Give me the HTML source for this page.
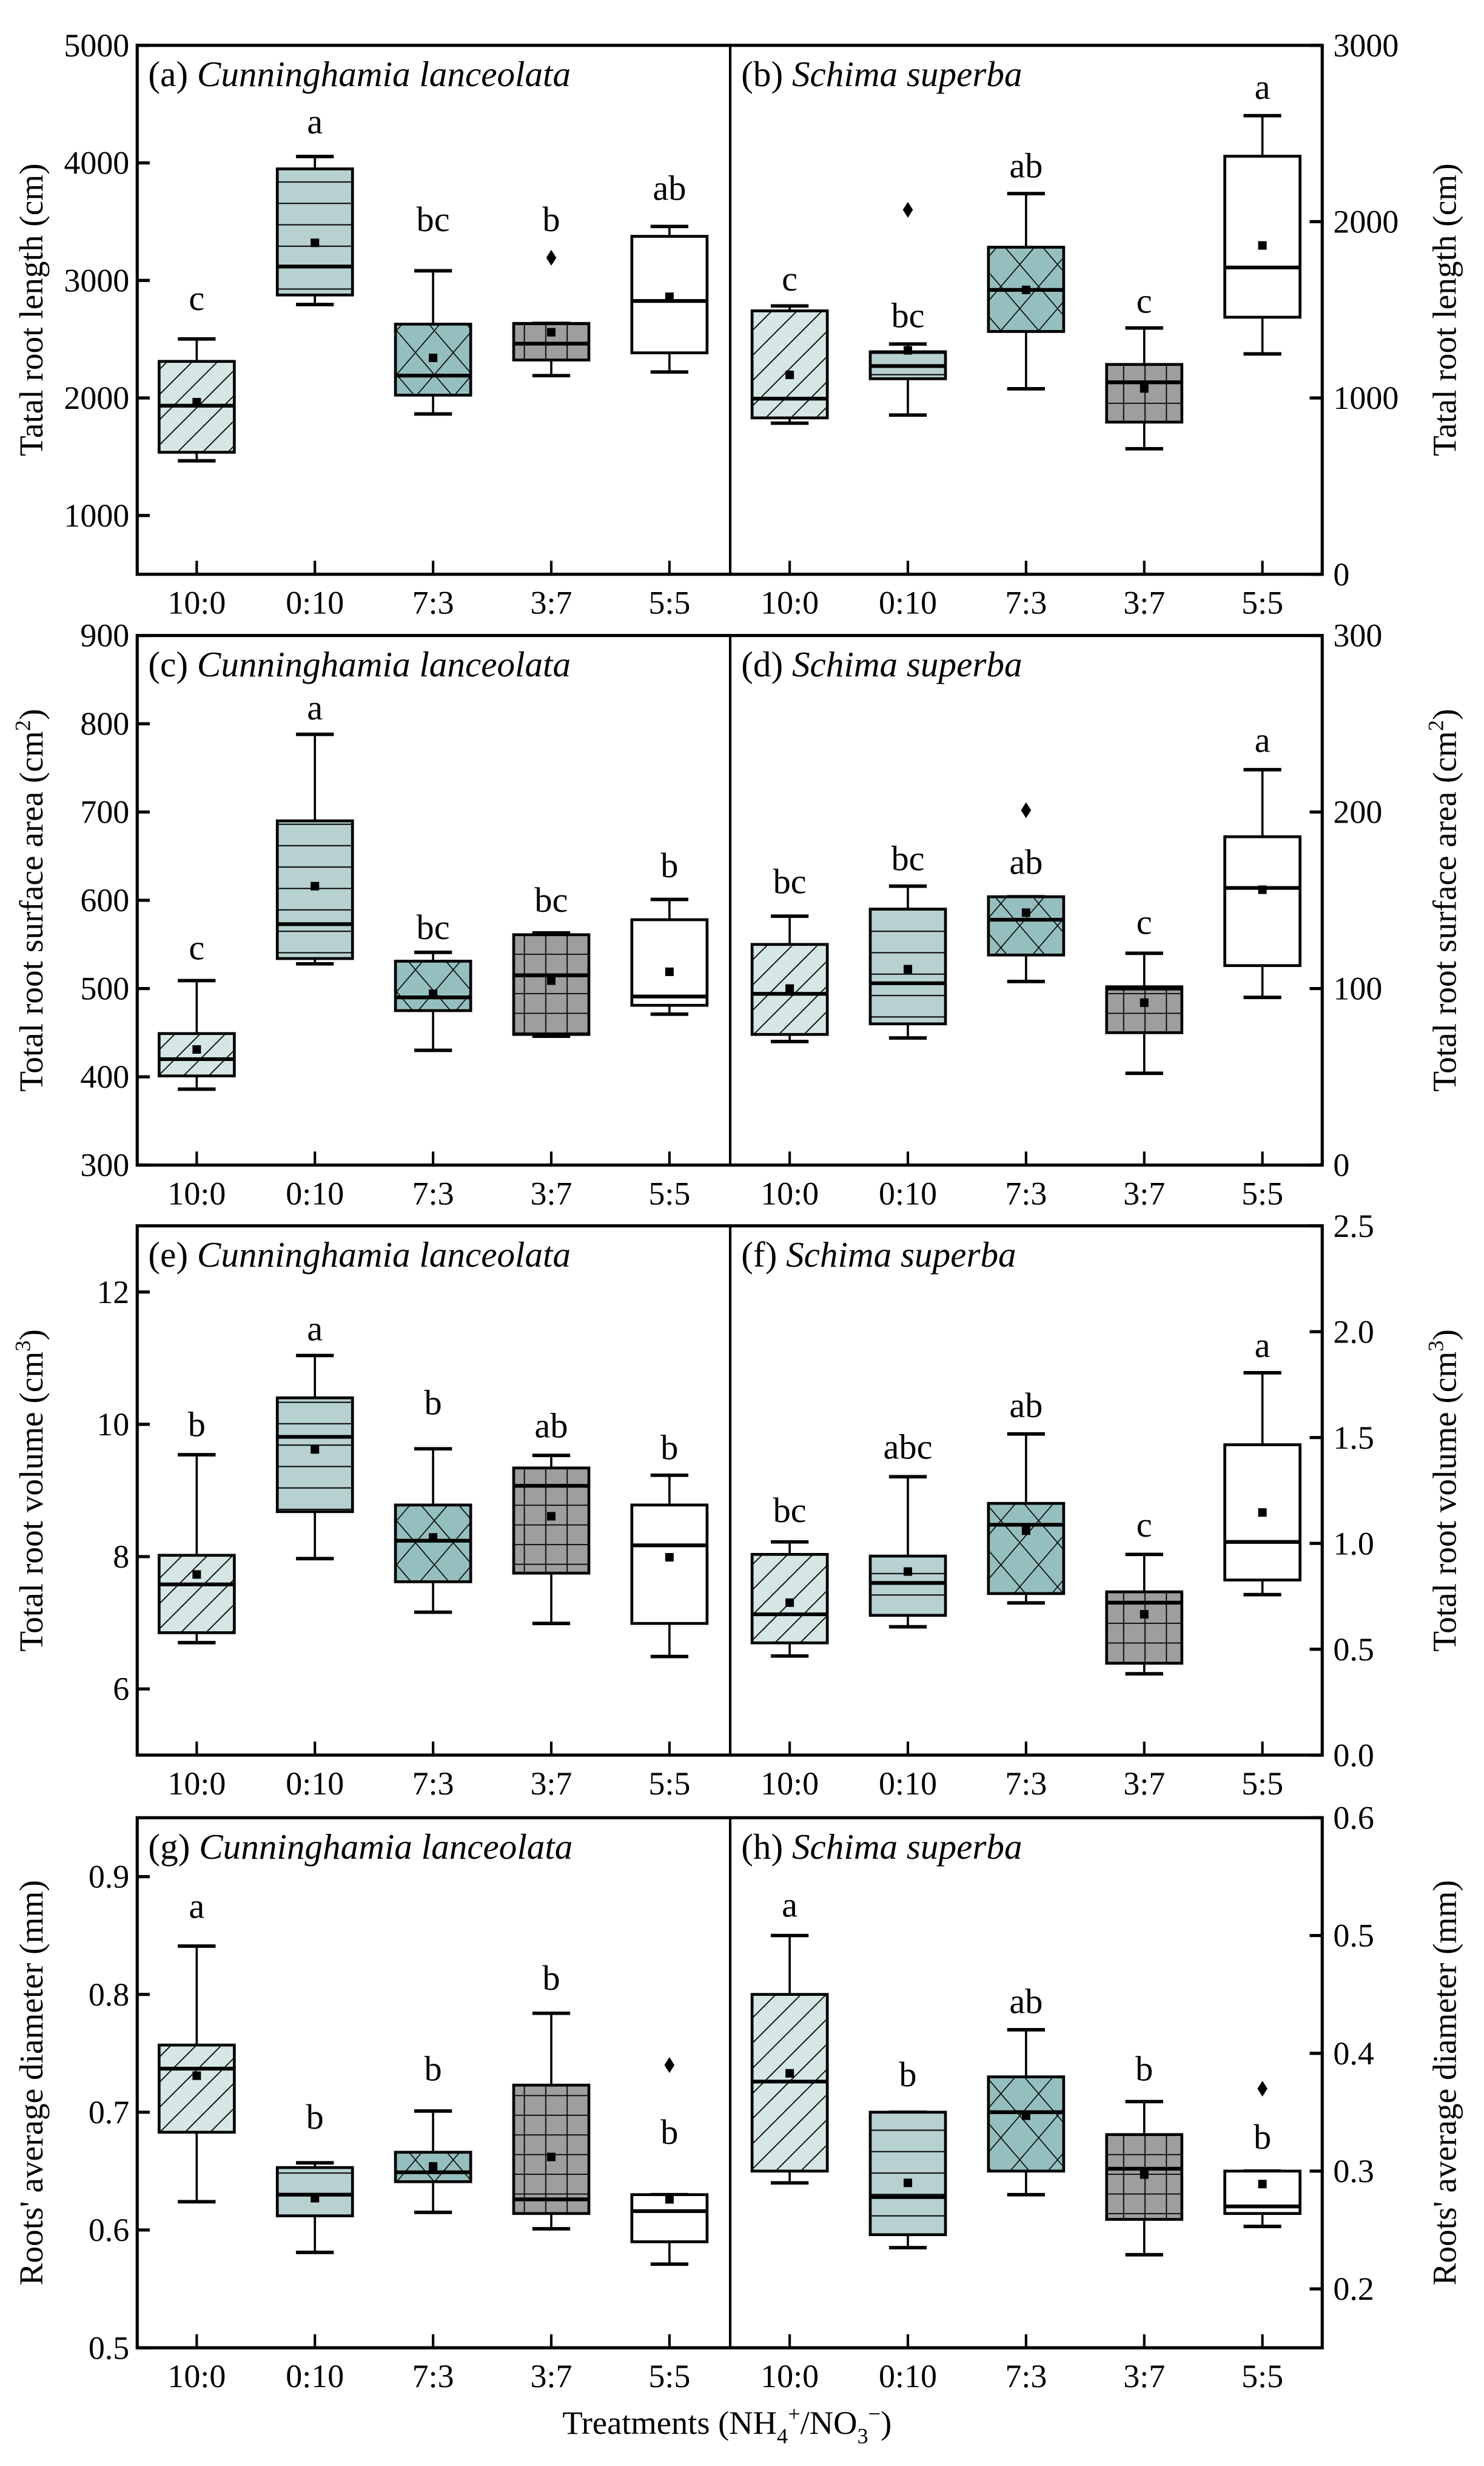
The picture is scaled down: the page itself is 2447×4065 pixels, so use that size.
<!DOCTYPE html>
<html><head><meta charset="utf-8"><style>
html,body{margin:0;padding:0;background:#fff;}
svg{display:block;font-family:"Liberation Serif",serif;}
svg text{font-family:"Liberation Serif",serif;}
</style></head><body>
<svg id="chart" xmlns="http://www.w3.org/2000/svg" width="2447" height="4065" viewBox="0 0 943 1566.5" preserveAspectRatio="none">
<defs>
<pattern id="pDiag" patternUnits="userSpaceOnUse" width="16" height="16"><rect width="16" height="16" fill="#d5e6e5"/><path d="M-4,4 L4,-4 M0,16 L16,0 M12,20 L20,12" stroke="#000" stroke-width="0.7"/></pattern>
<pattern id="pHoriz" patternUnits="userSpaceOnUse" width="10" height="13.6"><rect width="10" height="13.6" fill="#b7d1d0"/><line x1="0" y1="6.8" x2="10" y2="6.8" stroke="#000" stroke-width="0.8"/></pattern>
<pattern id="pCross" patternUnits="userSpaceOnUse" width="24" height="28"><rect width="24" height="28" fill="#95bfbe"/><path d="M0,0 L24,28 M24,0 L0,28 M-12,14 L0,28 M12,-14 L0,0 M36,14 L24,28 M12,42 L24,28" stroke="#000" stroke-width="0.6"/></pattern>
<pattern id="pGrid" patternUnits="userSpaceOnUse" width="13.6" height="12.5"><rect width="13.6" height="12.5" fill="#9e9e9e"/><path d="M6.8,0 V12.5 M0,6.2 H13.6" stroke="#000" stroke-width="0.7"/></pattern>
</defs>
<g id="layer"></g>
</svg>
<script>
const categories = ["10:0","0:10","7:3","3:7","5:5"];
const panelLabels = ["(a) ","(b) ","(c) ","(d) ","(e) ","(f) ","(g) ","(h) "];
const species = ["Cunninghamia lanceolata","Schima superba"];
const yRanges = [[500,5000],[0,3000],[300,900],[0,300],[5,13],[0,2.5],[0.5,0.95],[0.15,0.6]];
const yTicks = [[1000,2000,3000,4000,5000],[0,1000,2000,3000],[300,400,500,600,700,800,900],[0,100,200,300],[6,8,10,12],[0,0.5,1,1.5,2,2.5],[0.5,0.6,0.7,0.8,0.9],[0.2,0.3,0.4,0.5,0.6]];
const tickDecimals = [0,0,0,0,0,1,1,1];
const highW = [[2502,4054,3082,2634,3459],[1522,1306,2159,1397,2601],[509,788,541,563,601],[141,158,152,120,224],[9.54,11.04,9.63,9.53,9.23],[1.007,1.315,1.517,0.948,1.806],[0.841,0.657,0.701,0.784,0.630],[0.5,0.35,0.42,0.359,0.30]];
const q3 = [[2311,3949,2628,2634,3375],[1494,1262,1855,1190,2371],[449,690,531,561,578],[125,145,152,101,186],[8.02,10.40,8.78,9.34,8.78],[0.948,0.94,1.189,0.771,1.466],[0.757,0.653,0.666,0.723,0.630],[0.45,0.35,0.38,0.331,0.30]];
const med = [[1934,3118,2190,2462,2825],[996,1181,1613,1089,1740],[420,573,490,515,491],[97,103,139,100,157],[7.58,9.81,8.24,9.07,8.17],[0.665,0.813,1.088,0.72,1.007],[0.737,0.630,0.649,0.626,0.616],[0.376,0.278,0.35,0.302,0.270]];
const q1 = [[1538,2876,2024,2323,2384],[887,1109,1377,863,1458],[401,534,475,448,481],[74,80,119,75,113],[6.85,8.68,7.62,7.75,6.99],[0.53,0.66,0.763,0.434,0.827],[0.683,0.612,0.641,0.614,0.590],[0.30,0.246,0.30,0.259,0.264]];
const lowW = [[1465,2795,1864,2190,2221],[857,903,1052,712,1250],[386,528,430,446,471],[70,72,104,52,95],[6.70,7.97,7.16,6.99,6.49],[0.468,0.606,0.719,0.384,0.758],[0.624,0.581,0.615,0.601,0.571],[0.29,0.235,0.28,0.229,0.253]];
const means = [[1964,3320,2341,2559,2861],[1131,1270,1613,1054,1865],[431,616,494,509,519],[100,111,143,92,156],[7.73,9.62,8.29,8.61,7.99],[0.72,0.867,1.06,0.665,1.146],[0.731,0.627,0.654,0.662,0.626],[0.383,0.29,0.347,0.297,0.289]];
const outliers = [[null,null,null,3193,null],[null,2067,null,null,null],[null,null,null,null,null],[null,null,201,null,null],[null,null,null,null,null],[null,null,null,null,null],[null,null,null,null,0.740],[null,null,null,null,0.370]];
const letters = [["c","a","bc","b","ab"],["c","bc","ab","c","a"],["c","a","bc","bc","b"],["bc","bc","ab","c","a"],["b","a","b","ab","b"],["bc","abc","ab","c","a"],["a","b","b","b","b"],["a","b","ab","b","b"]];
const letterPos = [[2749,4251,3420,3420,3686],[1609,1401,2250,1484,2697],[533,805,556,587,626],[154,167,165,131,234],[9.82,11.27,10.15,9.80,9.47],[1.10,1.40,1.596,1.032,1.88],[0.865,0.686,0.727,0.804,0.673],[0.516,0.372,0.434,0.377,0.319]];
const axisTitles = [["Tatal root length (cm)",""],["Total root surface area (cm","2",")"],["Total root volume (cm","3",")"],["Roots' average diameter (mm)",""]];

const NS="http://www.w3.org/2000/svg";
const layer=document.getElementById('layer');
const rowTops=[28.8,403.7,778.7,1154.7], rowBots=[364.8,740.1,1114.9,1491.4];
const X0=87.2, XD=464, X1=840.2;
const fills=["url(#pDiag)","url(#pHoriz)","url(#pCross)","url(#pGrid)","#fff"];
function mk(tag,attrs,parent){const e=document.createElementNS(NS,tag);for(const k in attrs)e.setAttribute(k,attrs[k]);(parent||layer).appendChild(e);return e;}
function xPos(side,i){const a=side===0?X0:XD;return a+37.8+i*75.1;}

for(let r=0;r<4;r++){
  const top=rowTops[r], bot=rowBots[r];
  for(let side=0;side<2;side++){
    const p=r*2+side;
    const [mn,mx]=yRanges[p];
    const yS=v=>bot-(v-mn)/(mx-mn)*(bot-top);
    const g=mk('g',{});
    
    
    const t=mk('text',{x:side===0?X0+7:XD+7,y:top+26,'font-size':22.8},g);
    
    
    const s1=mk('tspan',{},t);s1.textContent=panelLabels[p];
    const s2=mk('tspan',{'font-style':'italic'},t);s2.textContent=species[side];
    const ax=side===0?X0:X1, dir=side===0?1:-1;
    yTicks[p].forEach(v=>{
      const y=yS(v);
      const tk=mk('line',{x1:ax,x2:ax+dir*8,y1:y,y2:y,stroke:'#000','stroke-width':2},g);
      
      
      const lb=mk('text',{x:side===0?ax-5:ax+7,y:y+7,'font-size':20.8,'text-anchor':side===0?'end':'start'},g);
      
      
      lb.textContent=v.toFixed(tickDecimals[p]);
    });
    for(let i=0;i<5;i++){
      const cx=xPos(side,i), hw=23.9, cw=12;
      const bx=mk('g',{},g);
      
      
      const yh=yS(highW[p][i]), y3=yS(q3[p][i]), ym=yS(med[p][i]), y1=yS(q1[p][i]), yl=yS(lowW[p][i]);
      mk('line',{x1:cx,x2:cx,y1:yh,y2:y3,stroke:'#000','stroke-width':1.4},bx);
      mk('line',{x1:cx,x2:cx,y1:y1,y2:yl,stroke:'#000','stroke-width':1.4},bx);
      mk('line',{x1:cx-cw,x2:cx+cw,y1:yh,y2:yh,stroke:'#000','stroke-width':2.2},bx);
      mk('line',{x1:cx-cw,x2:cx+cw,y1:yl,y2:yl,stroke:'#000','stroke-width':2.2},bx);
      mk('rect',{x:cx-hw,y:y3,width:2*hw,height:Math.max(0.5,y1-y3),fill:fills[i],stroke:'#000','stroke-width':1.8},bx);
      mk('line',{x1:cx-hw,x2:cx+hw,y1:ym,y2:ym,stroke:'#000','stroke-width':2.4},bx);
      const ymn=yS(means[p][i]);
      const m=mk('rect',{x:cx-2.7,y:ymn-2.7,width:5.4,height:5.4,fill:'#000'},bx);
      
      
      if(outliers[p][i]!==null){
        const yo=yS(outliers[p][i]);
        const o=mk('path',{d:`M${cx},${yo-5} L${cx+3.2},${yo} L${cx},${yo+5} L${cx-3.2},${yo} Z`,fill:'#000'},bx);
        
        
      }
      const lt=mk('text',{x:cx,y:yS(letterPos[p][i]),'font-size':22.5,'text-anchor':'middle'},g);
      
      
      lt.textContent=letters[p][i];
      const xt=mk('line',{x1:cx,x2:cx,y1:bot,y2:bot-8.6,stroke:'#000','stroke-width':1.6},g);
      
      
      const xl=mk('text',{x:cx,y:bot+25,'font-size':20.8,'text-anchor':'middle'},g);
      
      
      xl.textContent=categories[i];
    }
  }
  const fr=mk('rect',{x:X0,y:top,width:X1-X0,height:bot-top,fill:'none',stroke:'#000','stroke-width':2});
  
  
  const dv=mk('line',{x1:XD,x2:XD,y1:top,y2:bot,stroke:'#000','stroke-width':1.6});
  
  
  const cy=(top+bot)/2;
  [[20,'left'],[918,'right']].forEach(([x,sd])=>{
    const at=mk('text',{x:x,y:cy,'font-size':21.3,'text-anchor':'middle',transform:`rotate(-90 ${x} ${cy})`,dy:7});
    
    
    const T=axisTitles[r];
    const a=mk('tspan',{},at);a.textContent=T[0];
    if(T.length>2){
      const b=mk('tspan',{'font-size':14,dy:-8},at);b.textContent=T[1];
      const c=mk('tspan',{dy:8},at);c.textContent=T[2];
    }
  });
}
const xt=mk('text',{x:462,y:1546,'font-size':21,'text-anchor':'middle'});


[["Treatments (NH",0,21],["4",6,14],["+",-14,14],["/NO",8,21],["3",6,14],["\u2212",-14,14],[")",8,21]].forEach(([s,dy,fs])=>{const e=mk('tspan',{dy:dy,'font-size':fs},xt);e.textContent=s;});
</script>
</body></html>
